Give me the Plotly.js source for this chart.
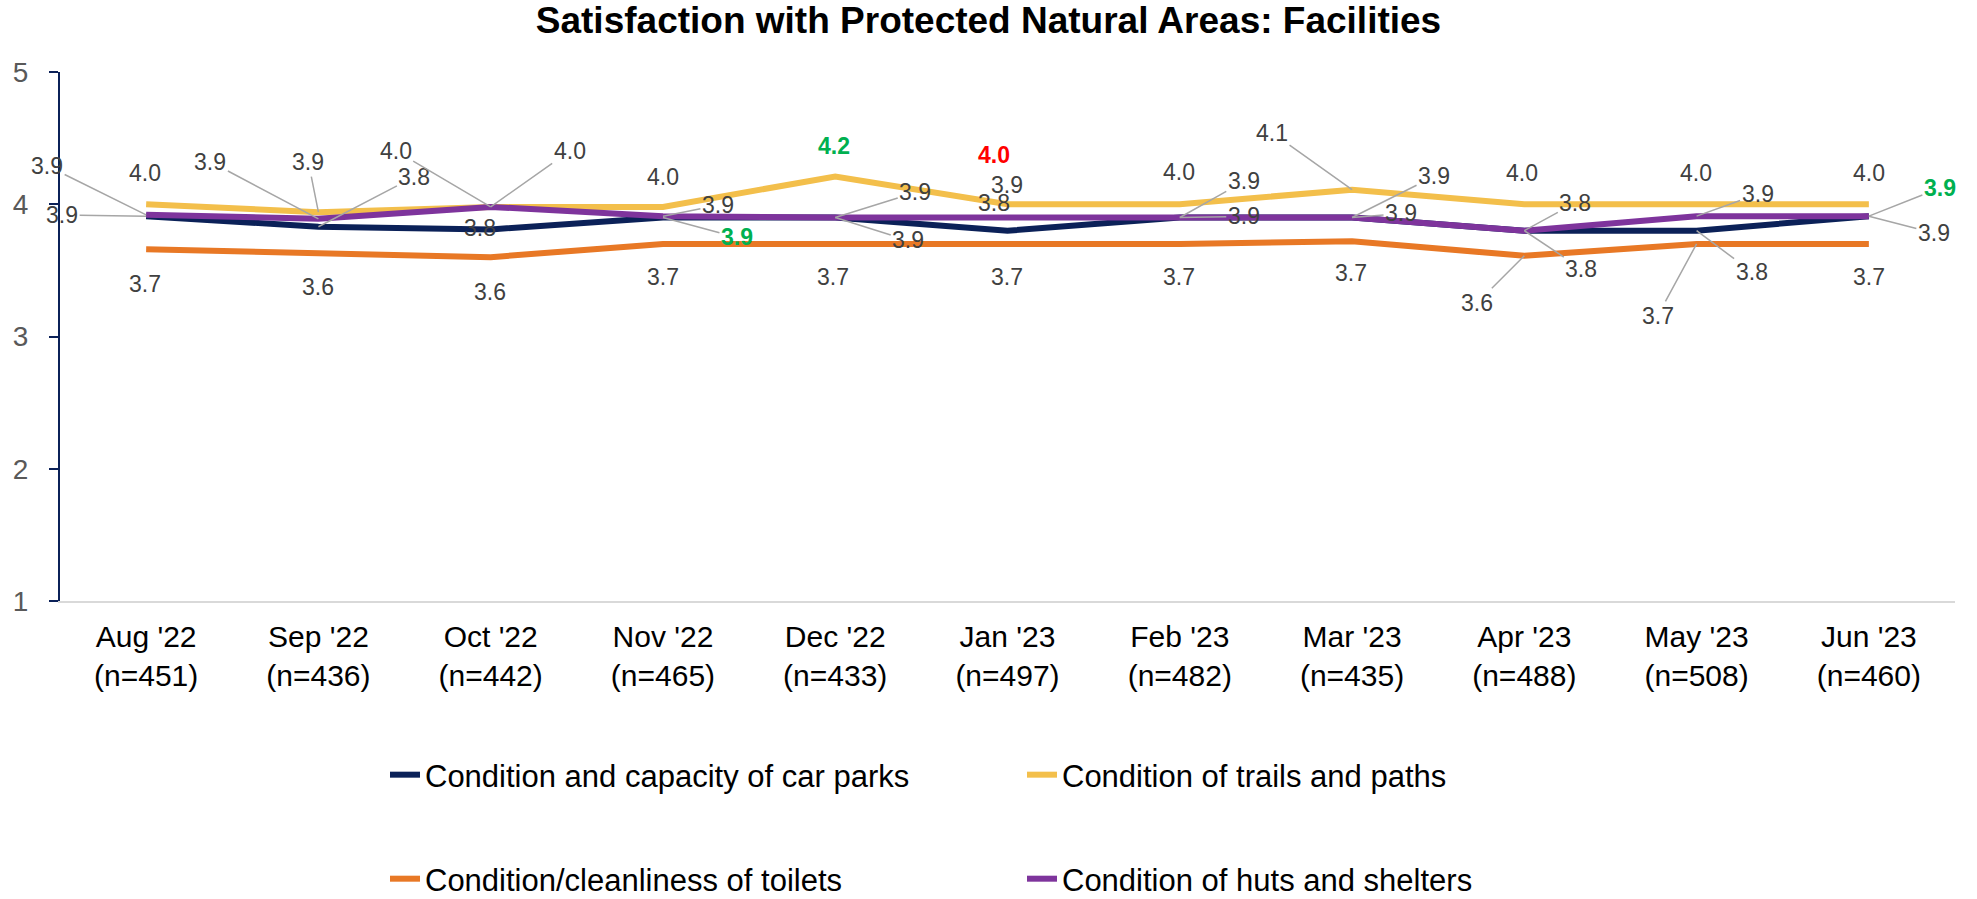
<!DOCTYPE html>
<html>
<head>
<meta charset="utf-8">
<script src="https://cdn.plot.ly/plotly-3.0.1.min.js"></script>
<style>
  html, body { margin: 0; padding: 0; background: #ffffff; }
  #chart { width: 1977px; height: 899px; }
</style>
</head>
<body>
<div id="chart"></div>
<script>
// ---------------- DATA ----------------
const months = ["Aug '22", "Sep '22", "Oct '22", "Nov '22", "Dec '22", "Jan '23", "Feb '23", "Mar '23", "Apr '23", "May '23", "Jun '23"];
const sampleSizes = [451, 436, 442, 465, 433, 497, 482, 435, 488, 508, 460];

const seriesNames = [
  "Condition and capacity of car parks",
  "Condition of trails and paths",
  "Condition/cleanliness of toilets",
  "Condition of huts and shelters"
];

const carParks = [3.91, 3.83, 3.81, 3.90, 3.90, 3.80, 3.90, 3.90, 3.80, 3.80, 3.91];
const trails   = [4.00, 3.94, 3.98, 3.98, 4.21, 4.00, 4.00, 4.11, 4.00, 4.00, 4.00];
const toilets  = [3.66, 3.63, 3.60, 3.70, 3.70, 3.70, 3.70, 3.72, 3.61, 3.70, 3.70];
const huts     = [3.92, 3.89, 3.98, 3.91, 3.90, 3.90, 3.90, 3.90, 3.80, 3.91, 3.91];

// significance flags (+1 significant increase, -1 significant decrease)
const carParksSig = [0, 0, 0, 1, 0, 0, 0, 0, 0, 0, 1];
const trailsSig   = [0, 0, 0, 0, 1, -1, 0, 0, 0, 0, 0];
const toiletsSig  = [0, 0, 0, 0, 0, 0, 0, 0, 0, 0, 0];
const hutsSig     = [0, 0, 0, 0, 0, 0, 0, 0, 0, 0, 0];

// ---------------- STYLE ----------------
const colors = ["#0B2158", "#F3BF4B", "#E87825", "#7E349C"];
const FONT = "'Liberation Sans', Arial, Helvetica, sans-serif";
const labelColor = "#404040";
const leaderColor = "#A6A6A6";
const sigColors = {"1": "#00B050", "-1": "#FF0000"};

// label placement: [dx, dy] screen-pixel offset of label centre from its point, and whether a leader line is drawn
const carParksLbl = [[-84, -1], [96, -50], [-11, -1], [74, 20], [73, 23], [-14, -28], [64, -1], [49, -4], [57, 38], [55, 41], [71, -28]];
const carParksLead = [1, 1, 0, 1, 1, 0, 1, 1, 1, 1, 1];
const trailsLbl = [[-1, -31], [-10, -50], [79, -56], [0, -30], [-1, -30], [-14, -49], [-1, -32], [-80, -57], [-2, -31], [-1, -31], [0, -31]];
const trailsLead = [0, 1, 1, 0, 0, 0, 0, 1, 0, 0, 0];
const toiletsLbl = [[-1, 35], [0, 34], [-1, 35], [0, 33], [-2, 33], [-1, 33], [-1, 33], [-1, 32], [-47, 47], [-39, 72], [0, 33]];
const toiletsLead = [0, 0, 0, 0, 0, 0, 0, 0, 1, 1, 0];
const hutsLbl = [[-99, -49], [-108, -57], [-95, -56], [55, -11], [80, -25], [-1, -32], [64, -36], [82, -41], [51, -28], [61, -22], [65, 17]];
const hutsLead = [1, 1, 1, 1, 1, 0, 1, 1, 1, 1, 1];

const seriesValues = [carParks, trails, toilets, huts];
const seriesSig = [carParksSig, trailsSig, toiletsSig, hutsSig];
const seriesLbl = [carParksLbl, trailsLbl, toiletsLbl, hutsLbl];
const seriesLead = [carParksLead, trailsLead, toiletsLead, hutsLead];
const legendOf = ["legend", "legend", "legend2", "legend2"];

// ---------------- BUILD ----------------
const tickText = months.map((m, i) => m + "<br>(n=" + sampleSizes[i] + ")");

const traces = seriesValues.map((vals, s) => ({
  type: "scatter",
  mode: "lines",
  name: seriesNames[s],
  x: months,
  y: vals,
  line: {color: colors[s], width: 6, shape: "linear"},
  legend: legendOf[s],
  hoverinfo: "skip"
}));

const annotations = [];
seriesValues.forEach((vals, s) => {
  vals.forEach((v, i) => {
    const sig = seriesSig[s][i];
    const [dx, dy] = seriesLbl[s][i];
    const lead = seriesLead[s][i] === 1;
    const ann = {
      x: months[i], y: v, xref: "x", yref: "y",
      text: sig !== 0 ? "<b>" + v.toFixed(1) + "</b>" : v.toFixed(1),
      font: {family: FONT, size: 23, color: sig !== 0 ? sigColors[String(sig)] : labelColor},
      xanchor: "center", yanchor: "middle"
    };
    if (lead) {
      Object.assign(ann, {showarrow: true, ax: dx, ay: dy, axref: "pixel", ayref: "pixel",
        arrowhead: 0, arrowwidth: 1.5, arrowcolor: leaderColor, standoff: 0, startstandoff: 0});
    } else {
      Object.assign(ann, {showarrow: false, xshift: dx, yshift: -dy});
    }
    annotations.push(ann);
  });
});

const layout = {
  width: 1977, height: 899,
  paper_bgcolor: "#ffffff", plot_bgcolor: "#ffffff",
  margin: {l: 60, r: 22, t: 72, b: 298, pad: 0, autoexpand: false},
  font: {family: FONT, color: "#000000"},
  title: {
    text: "<b>Satisfaction with Protected Natural Areas: Facilities</b>",
    font: {family: FONT, size: 37, color: "#000000"},
    x: 0.5, xref: "container", xanchor: "center",
    y: 0.9773, yref: "container", yanchor: "middle"
  },
  xaxis: {
    type: "category",
    range: [-0.5, 10.5],
    tickmode: "array", tickvals: months, ticktext: tickText,
    tickfont: {family: FONT, size: 30, color: "#000000"},
    ticks: "", showline: true, linecolor: "#D9D9D9", linewidth: 2,
    showgrid: false, zeroline: false, ticklabelstandoff: 8
  },
  yaxis: {
    range: [1, 5], dtick: 1, tick0: 1,
    tickfont: {family: FONT, size: 28, color: "#595959"},
    ticks: "outside", ticklen: 9, tickwidth: 2, tickcolor: "#0B2158",
    showline: true, linecolor: "#0B2158", linewidth: 2,
    showgrid: false, zeroline: false, ticklabelstandoff: 15
  },
  showlegend: true,
  legend: {
    orientation: "h", xref: "paper", x: 0.1715, xanchor: "left",
    yref: "container", y: 0.1379, yanchor: "middle",
    font: {family: FONT, size: 31, color: "#000000"},
    bgcolor: "rgba(0,0,0,0)", entrywidth: 592, entrywidthmode: "pixels",
    traceorder: "normal"
  },
  legend2: {
    orientation: "h", xref: "paper", x: 0.1715, xanchor: "left",
    yref: "container", y: 0.0222, yanchor: "middle",
    font: {family: FONT, size: 31, color: "#000000"},
    bgcolor: "rgba(0,0,0,0)", entrywidth: 592, entrywidthmode: "pixels",
    traceorder: "normal"
  },
  annotations: annotations,
  hovermode: false
};

Plotly.newPlot("chart", traces, layout, {displayModeBar: false, staticPlot: true});
</script>
</body>
</html>
